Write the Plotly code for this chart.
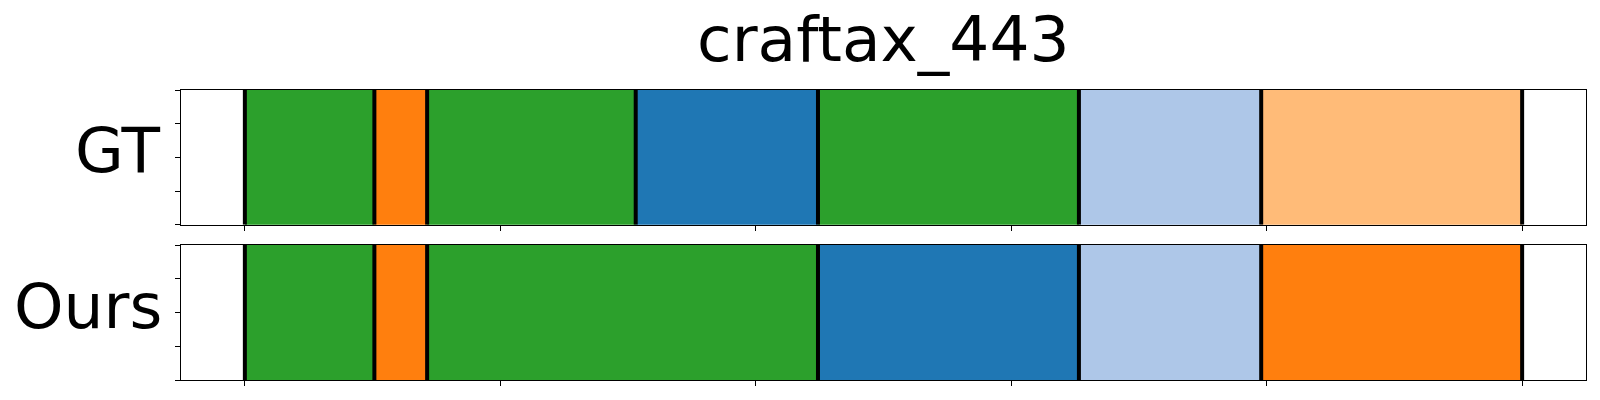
import plotly.graph_objects as go

# ---- data ----
title_text = "craftax_443"
row_labels = ["GT", "Ours"]

gt_bounds = [0, 10.14, 14.27, 30.6, 44.87, 65.3, 79.57, 100]
gt_colors = ["#2ca02c", "#ff7f0e", "#2ca02c", "#1f77b4", "#2ca02c", "#aec7e8", "#ffbb78"]

ours_bounds = [0, 10.14, 14.27, 44.87, 65.3, 79.57, 100]
ours_colors = ["#2ca02c", "#ff7f0e", "#2ca02c", "#1f77b4", "#aec7e8", "#ff7f0e"]

x_ticks = [0, 20, 40, 60, 80, 100]
y_ticks = [0, 0.25, 0.5, 0.75, 1.0]

# ---- figure ----
W, H = 1600, 400
ml, mr, mt, mb = 181.3, 14.3, 90.3, 19.7
plot_h = H - mt - mb

def py(pix):
    return (H - mb - pix) / plot_h

fig = go.Figure()

rows = [
    (gt_bounds, gt_colors, "x", "y"),
    (ours_bounds, ours_colors, "x2", "y2"),
]

for bounds, colors, xa, ya in rows:
    for i, c in enumerate(colors):
        start, end = bounds[i], bounds[i + 1]
        fig.add_trace(go.Bar(
            orientation="h", y=[0.5], x=[end - start], base=[start], width=1,
            marker=dict(color=c, line=dict(width=0)),
            xaxis=xa, yaxis=ya, showlegend=False, hoverinfo="skip",
        ))
    lx, ly = [], []
    for b in bounds:
        lx += [b, b, None]
        ly += [0, 1, None]
    fig.add_trace(go.Scatter(
        x=lx, y=ly, mode="lines", line=dict(color="black", width=4),
        xaxis=xa, yaxis=ya, showlegend=False, hoverinfo="skip",
    ))

ax_common = dict(
    showline=True, linecolor="black", linewidth=1, mirror=True,
    ticks="outside", ticklen=5, tickcolor="black", tickwidth=1,
    showticklabels=False, showgrid=False, zeroline=False,
)

gt_bottom = py(225)
ours_top = py(245.3)

fig.update_layout(
    width=W, height=H,
    margin=dict(l=ml, r=mr, t=mt, b=mb),
    plot_bgcolor="white", paper_bgcolor="white",
    barmode="overlay", bargap=0,
    font=dict(family="DejaVu Sans", color="black"),
    xaxis=dict(domain=[0, 1], range=[-5, 105], tickvals=x_ticks, anchor="y", **ax_common),
    yaxis=dict(domain=[gt_bottom, 1], range=[0, 1], tickvals=y_ticks, anchor="x", **ax_common),
    xaxis2=dict(domain=[0, 1], range=[-5, 105], tickvals=x_ticks, anchor="y2", **ax_common),
    yaxis2=dict(domain=[0, ours_top], range=[0, 1], tickvals=y_ticks, anchor="x2", **ax_common),
)

fs = 63
fig.add_annotation(text=title_text, xref="paper", yref="paper", x=0.5, y=py(40),
                   xanchor="center", yanchor="middle", showarrow=False,
                   font=dict(size=fs, family="DejaVu Sans", color="black"))
fig.add_annotation(text=row_labels[0], xref="paper", yref="paper", x=-(ml - 163.5) / (W - ml - mr),
                   y=py(151), xanchor="right", yanchor="middle", showarrow=False,
                   font=dict(size=fs, family="DejaVu Sans", color="black"))
fig.add_annotation(text=row_labels[1], xref="paper", yref="paper", x=-(ml - 164.3) / (W - ml - mr),
                   y=py(306.5), xanchor="right", yanchor="middle", showarrow=False,
                   font=dict(size=fs, family="DejaVu Sans", color="black"))

fig.write_html("out.html", config={"displayModeBar": False},
               post_script="document.body.style.margin='0';document.body.style.overflow='hidden';")
